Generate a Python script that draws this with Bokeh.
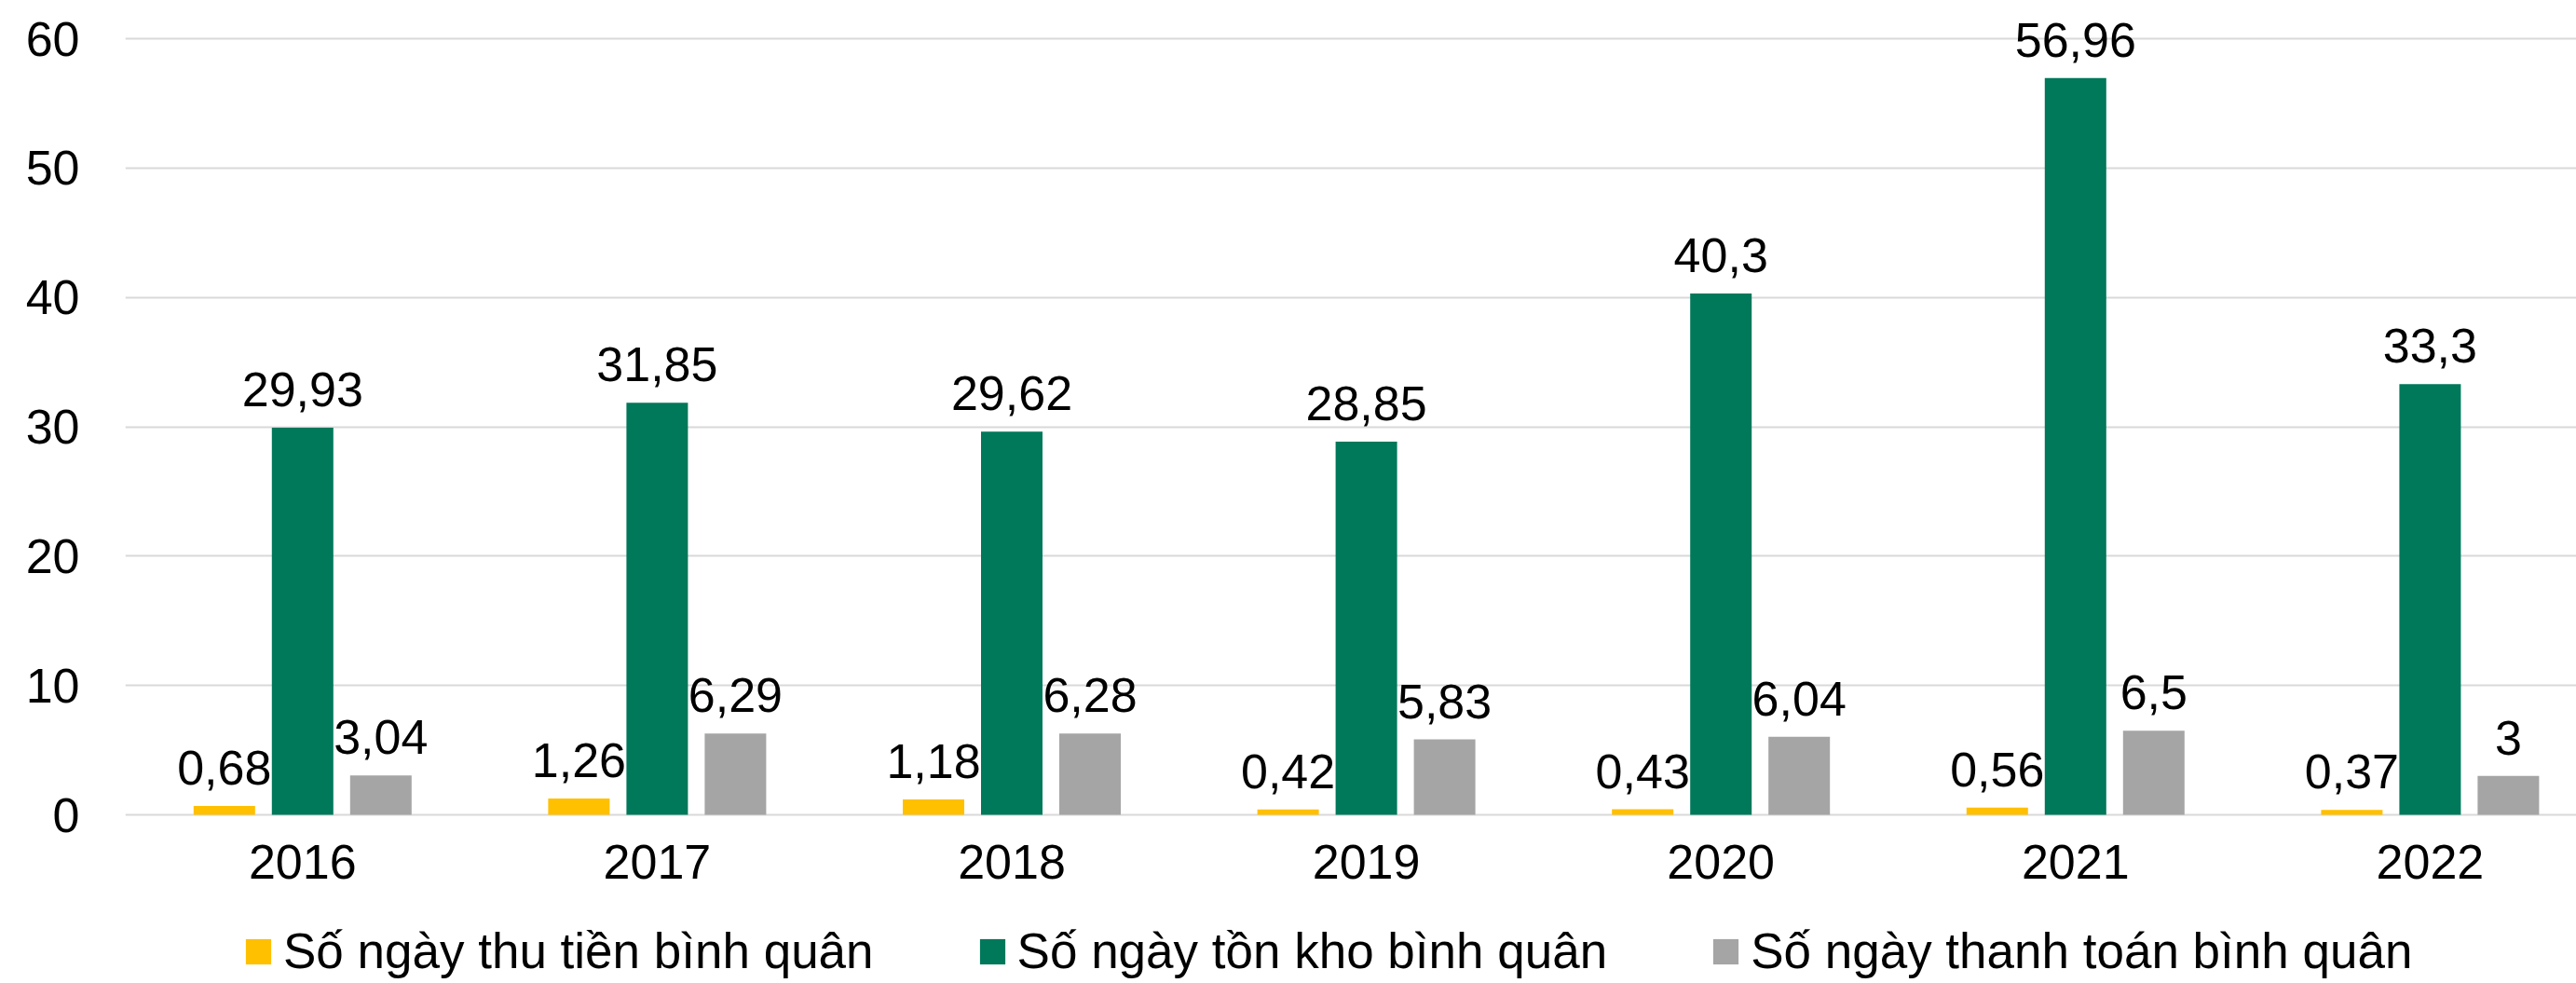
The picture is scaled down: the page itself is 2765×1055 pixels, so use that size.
import numpy as np
from bokeh.plotting import figure
from bokeh.models import (ColumnDataSource, Range1d, FixedTicker, Legend, LegendItem, LabelSet)
from bokeh.core.properties import value
from bokeh.embed import file_html
from bokeh.resources import INLINE

years = ["2016", "2017", "2018", "2019", "2020", "2021", "2022"]
thu_tien = [0.68, 1.26, 1.18, 0.42, 0.43, 0.56, 0.37]
ton_kho = [29.93, 31.85, 29.62, 28.85, 40.3, 56.96, 33.3]
thanh_toan = [3.04, 6.29, 6.28, 5.83, 6.04, 6.5, 3.0]
series_names = ["Số ngày thu tiền bình quân", "Số ngày tồn kho bình quân", "Số ngày thanh toán bình quân"]
y_ticks = [0, 10, 20, 30, 40, 50, 60]

colors = ["#FFC000", "#00785A", "#A5A5A5"]
FONT = "Liberation Sans"
FS = "52px"
FS_LEG = "53px"

W, H = 2765, 1052
LEFT = 134
ZERO_Y = 874            # screen y of value 0
px_per_cat = 380.6
px_per_unit = 13.883

p = figure(width=W, height=H, output_backend="svg", toolbar_location=None,
           x_range=Range1d(-0.5, -0.5 + (W - LEFT) / px_per_cat),
           y_range=Range1d(-(H - ZERO_Y) / px_per_unit, ZERO_Y / px_per_unit),
           min_border_left=LEFT, min_border_right=0, min_border_top=0,
           min_border_bottom=0)
p.outline_line_color = None
p.background_fill_color = "white"
p.border_fill_color = "white"

idx = np.arange(len(years))
bw = 66 / px_per_cat
off = 84 / px_per_cat
renderers = []
for k, (vals, dx) in enumerate([(thu_tien, -off), (ton_kho, 0.0), (thanh_toan, off)]):
    src = ColumnDataSource(dict(x=idx + dx, top=vals,
                                lbl=[f"{v:g}".replace(".", ",") for v in vals]))
    r = p.vbar(x="x", top="top", bottom=0, width=bw, source=src,
               fill_color=colors[k], line_color=None)
    renderers.append(r)
    labels = LabelSet(x="x", y="top", text="lbl", source=src, y_offset=23,
                      text_align="center", text_baseline="alphabetic",
                      text_font=value(FONT), text_font_size=value(FS), text_color="black")
    p.add_layout(labels)

p.xgrid.grid_line_color = None
p.ygrid.grid_line_color = "#D9D9D9"
p.ygrid.grid_line_width = 2
p.yaxis.ticker = FixedTicker(ticks=y_ticks)
p.xaxis.ticker = FixedTicker(ticks=list(idx))
p.xaxis.major_label_overrides = {int(i): y for i, y in zip(idx, years)}
p.xaxis.fixed_location = 0

for ax in (p.xaxis[0], p.yaxis[0]):
    ax.axis_line_color = None
    ax.major_tick_line_color = None
    ax.minor_tick_line_color = None
    ax.major_tick_out = 0
    ax.major_tick_in = 0
    ax.major_label_text_font = FONT
    ax.major_label_text_font_size = FS
    ax.major_label_text_color = "black"
p.yaxis.major_label_standoff = 49
p.xaxis.major_label_standoff = 32

legend = Legend(items=[LegendItem(label=n, renderers=[r]) for n, r in zip(series_names, renderers)],
                orientation="horizontal", location=(126, 1),
                glyph_width=34, glyph_height=34, label_standoff=10, spacing=110,
                padding=0, margin=0, border_line_color=None, background_fill_alpha=0,
                label_text_font=FONT, label_text_font_size=FS_LEG, label_text_color="black")
p.add_layout(legend, "center")

open("out.html", "w").write(file_html(p, INLINE))
